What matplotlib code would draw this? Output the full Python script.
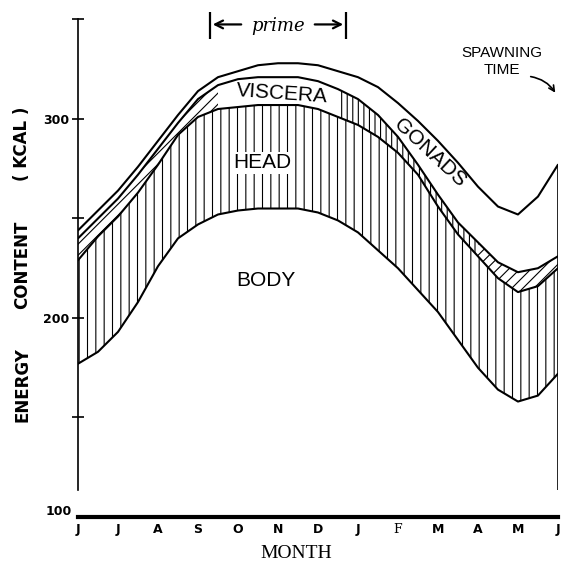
"""Seasonal energy content of body parts, redrawn from a scanned figure."""

import numpy as np
import matplotlib
matplotlib.use("Agg")
import matplotlib.pyplot as plt

# month positions, June to June, half-month steps
month_pos = np.arange(0, 12.5, 0.5)
month_labels = ["J", "J", "A", "S", "O", "N", "D", "J", "F", "M", "A", "M", "J"]

# upper edge of each layer (kcal)
gonads_top = [244, 254, 264, 276, 289, 302, 314, 321, 324, 327, 328, 328, 327,
              324, 321, 316, 308, 299, 289, 278, 266, 256, 252, 261, 277]
viscera_top = [240, 250, 260, 272, 285, 298, 310, 317, 320, 321, 321, 321, 319,
               315, 310, 302, 291, 277, 262, 248, 238, 228, 223, 225, 231]
head_top = [229, 241, 251, 263, 277, 292, 301, 305, 306, 307, 307, 307, 305,
            301, 297, 291, 283, 272, 256, 242, 231, 220, 213, 216, 225]
body_top = [177, 183, 193, 208, 226, 240, 247, 252, 254, 255, 255, 255, 253,
            249, 243, 234, 225, 214, 203, 189, 175, 164, 158, 161, 172]

plt.rcParams["hatch.linewidth"] = 0.8

fig = plt.figure(figsize=(5.62, 5.65), dpi=100)
ax = fig.add_axes([0.1388, 0.085, 0.854, 0.8876])
ax.set_xlim(0, 12)
ax.set_ylim(100, 352)

g = np.array(gonads_top)
v = np.array(viscera_top)
h = np.array(head_top)
b = np.array(body_top)
m = month_pos

# head: vertical hatching
ax.fill_between(m, b, h, facecolor="none", edgecolor="black", hatch="||", lw=0)

# viscera: mixed hatching, left blank where the label sits
ax.fill_between(m, h, v, where=(m <= 3.5), facecolor="none",
                edgecolor="black", hatch="///", lw=0)
ax.fill_between(m, h, v, where=(m >= 6.5) & (m <= 10), facecolor="none",
                edgecolor="black", hatch="|||", lw=0)
ax.fill_between(m, h, v, where=(m >= 10), facecolor="none",
                edgecolor="black", hatch="///", lw=0)

for curve in (g, v, h, b):
    ax.plot(m, curve, color="black", lw=1.5, solid_capstyle="round",
            solid_joinstyle="round")

# frame: thick base line, short left axis, right edge line
for side in ("top", "right"):
    ax.spines[side].set_visible(False)
ax.spines["bottom"].set_linewidth(3)
ax.spines["left"].set_linewidth(1.2)
ax.spines["left"].set_bounds(113.5, 350)
ax.vlines(m[-1], 113.5, g[-1], color="black", lw=1.2)

ax.set_yticks([100, 150, 200, 250, 300, 350])
ax.set_yticklabels(["", "", "200", "", "300", ""])
ax.yaxis.get_major_ticks()[0].tick1line.set_visible(False)
ax.tick_params(axis="y", direction="inout", length=8, width=1.2, pad=2,
               labelsize=9)
for lbl in ax.get_yticklabels():
    lbl.set_fontweight("bold")
ax.text(-0.15, 102.5, "100", ha="right", va="center", fontsize=9,
        fontweight="bold")

ax.set_xticks(range(13))
ax.set_xticklabels(month_labels)
ax.tick_params(axis="x", length=0, pad=4, labelsize=9)
for lbl in ax.get_xticklabels():
    lbl.set_fontweight("bold")
ax.get_xticklabels()[8].set_fontfamily("DejaVu Serif")
ax.get_xticklabels()[8].set_fontweight("normal")

fig.text(0.528, 0.02, "MONTH", ha="center", va="center",
         family="Liberation Serif", fontsize=14)
for word, ypos in (("ENERGY", 0.3186), ("CONTENT", 0.532), ("( KCAL )", 0.745)):
    fig.text(0.04, ypos, word, rotation=90, ha="center", va="center",
             fontsize=12, fontweight="bold")

# layer names
lab = dict(family="Liberation Sans", fontsize=15, ha="center", va="center")
ax.text(5.1, 312.5, "VISCERA", rotation=-4, **lab)
ax.text(4.6, 278, "HEAD",
        bbox=dict(facecolor="white", edgecolor="none", pad=1), **lab)
ax.text(4.7, 219, "BODY", **lab)
ax.text(8.8, 283, "GONADS", rotation=-43, **lab)

# spawning note
ax.text(10.6, 329, "SPAWNING\nTIME", ha="center", va="center",
        family="Liberation Sans", fontsize=11, linespacing=1.25)
ax.annotate("", xy=(11.97, 312), xytext=(11.25, 321.5),
            arrowprops=dict(arrowstyle="->", lw=1.2,
                            connectionstyle="arc3,rad=-0.25"),
            annotation_clip=False)

# handwritten "prime" bracket
ax.text(5.0, 346.5, "prime", ha="center", va="center", family="DejaVu Serif",
        style="italic", fontsize=13)
ax.annotate("", xy=(3.3, 347.5), xytext=(4.15, 347.5),
            arrowprops=dict(arrowstyle="->", lw=1.6, mutation_scale=14),
            annotation_clip=False)
ax.annotate("", xy=(6.7, 347.5), xytext=(5.85, 347.5),
            arrowprops=dict(arrowstyle="->", lw=1.6, mutation_scale=14),
            annotation_clip=False)
ax.vlines([3.3, 6.7], 340, 354, color="black", lw=1.6, clip_on=False)

fig.savefig("out.png", dpi=100)
